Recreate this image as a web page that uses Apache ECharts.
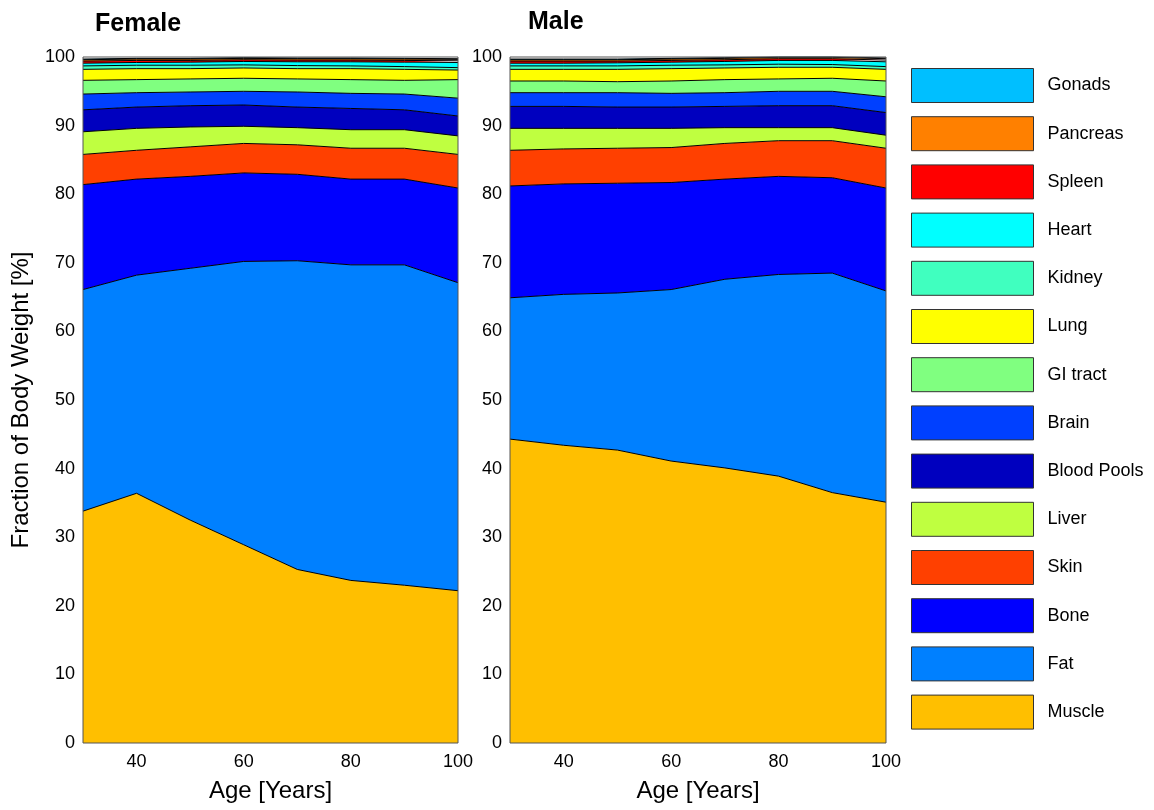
<!DOCTYPE html>
<html>
<head>
<meta charset="utf-8">
<script src="https://cdn.jsdelivr.net/npm/echarts@6/dist/echarts.min.js"></script>
<style>html,body{margin:0;padding:0;background:#fff}#c{width:1154px;height:810px}</style>
</head>
<body>
<div id="c"></div>
<script>
const ages = [30, 40, 50, 60, 70, 80, 90, 100];
const organs = ['Muscle','Fat','Bone','Skin','Liver','Blood Pools','Brain','GI tract','Lung','Kidney','Heart','Spleen','Pancreas','Gonads'];
const colors = ['#FFBF00','#0080FF','#0000FF','#FF4000','#BFFF40','#0000BF','#0040FF','#80FF80','#FFFF00','#40FFBF','#00FFFF','#FF0000','#FF8000','#00BFFF'];

// Female fractions [%]
const femaleMuscle   = [33.8, 36.4, 32.5, 28.9, 25.3, 23.7, 23.0, 22.2];
const femaleFat      = [32.3, 31.8, 36.7, 41.3, 45.0, 46.0, 46.7, 44.9];
const femaleBone     = [15.3, 14.0, 13.4, 12.9, 12.6, 12.5, 12.5, 13.8];
const femaleSkin     = [4.4, 4.2, 4.3, 4.3, 4.3, 4.5, 4.5, 4.9];
const femaleLiver    = [3.3, 3.2, 2.9, 2.5, 2.5, 2.7, 2.7, 2.7];
const femaleBlood    = [3.2, 3.1, 3.1, 3.1, 3.0, 3.1, 2.9, 2.9];
const femaleBrain    = [2.3, 2.1, 2.0, 2.0, 2.2, 2.2, 2.3, 2.6];
const femaleGI       = [2.0, 1.9, 1.9, 1.9, 1.9, 2.0, 2.0, 2.7];
const femaleLung     = [1.6, 1.6, 1.5, 1.5, 1.5, 1.6, 1.6, 1.4];
const femaleKidney   = [0.5, 0.5, 0.5, 0.45, 0.45, 0.4, 0.4, 0.35];
const femaleHeart    = [0.4, 0.4, 0.45, 0.5, 0.55, 0.6, 0.65, 0.75];
const femaleSpleen   = [0.3, 0.3, 0.25, 0.25, 0.25, 0.25, 0.25, 0.25];
const femalePancreas = [0.2, 0.2, 0.2, 0.2, 0.2, 0.2, 0.2, 0.2];
const femaleGonads   = [0.1, 0.1, 0.1, 0.1, 0.1, 0.1, 0.1, 0.1];

// Male fractions [%]
const maleMuscle   = [44.3, 43.4, 42.7, 41.1, 40.1, 38.9, 36.5, 35.1];
const maleFat      = [20.6, 22.0, 22.9, 25.0, 27.5, 29.4, 32.0, 30.8];
const maleBone     = [16.3, 16.1, 16.0, 15.6, 14.6, 14.3, 13.9, 15.0];
const maleSkin     = [5.2, 5.1, 5.1, 5.1, 5.2, 5.2, 5.4, 5.8];
const maleLiver    = [3.2, 3.0, 2.9, 2.8, 2.3, 1.9, 1.9, 1.9];
const maleBlood    = [3.2, 3.2, 3.1, 3.1, 3.1, 3.2, 3.2, 3.3];
const maleBrain    = [2.0, 2.0, 2.1, 2.0, 2.0, 2.1, 2.1, 2.3];
const maleGI       = [1.7, 1.7, 1.6, 1.8, 1.9, 1.8, 1.9, 2.3];
const maleLung     = [1.7, 1.7, 1.8, 1.8, 1.7, 1.7, 1.6, 1.7];
const maleKidney   = [0.5, 0.5, 0.5, 0.5, 0.45, 0.45, 0.4, 0.4];
const maleHeart    = [0.4, 0.4, 0.45, 0.45, 0.5, 0.55, 0.6, 0.7];
const maleSpleen   = [0.3, 0.3, 0.25, 0.25, 0.25, 0.25, 0.25, 0.25];
const malePancreas = [0.2, 0.2, 0.2, 0.2, 0.2, 0.2, 0.2, 0.2];
const maleGonads   = [0.1, 0.1, 0.1, 0.1, 0.1, 0.1, 0.1, 0.1];

const yTicks = [0,10,20,30,40,50,60,70,80,90,100];
const xTickLabels = ['40', '60', '80', '100'];

const femaleData = [femaleMuscle, femaleFat, femaleBone, femaleSkin, femaleLiver, femaleBlood, femaleBrain, femaleGI, femaleLung, femaleKidney, femaleHeart, femaleSpleen, femalePancreas, femaleGonads];
const maleData = [maleMuscle, maleFat, maleBone, maleSkin, maleLiver, maleBlood, maleBrain, maleGI, maleLung, maleKidney, maleHeart, maleSpleen, malePancreas, maleGonads];

const FONT = 'Liberation Sans, Arial, sans-serif';

function xAxis(idx) {
  return {
    type: 'category', gridIndex: idx, data: ages.map(String), boundaryGap: false,
    name: 'Age [Years]', nameLocation: 'middle', nameGap: 36,
    nameTextStyle: { fontSize: 24, color: '#000', fontFamily: FONT },
    axisLine: { show: false }, axisTick: { show: false }, splitLine: { show: false },
    axisLabel: { fontSize: 18, color: '#000', fontFamily: FONT, margin: 10, interval: 0,
      formatter: v => xTickLabels.indexOf(String(v)) >= 0 ? String(v) : '' }
  };
}
function yAxis(idx, withName) {
  return {
    type: 'value', gridIndex: idx, min: yTicks[0], max: yTicks[yTicks.length-1], interval: 10,
    name: withName ? 'Fraction of Body Weight [%]' : '', nameLocation: 'middle', nameGap: 50, nameRotate: 90,
    nameTextStyle: { fontSize: 24, color: '#000', fontFamily: FONT },
    axisLine: { show: false }, axisTick: { show: false }, splitLine: { show: false },
    axisLabel: { fontSize: 18, color: '#000', fontFamily: FONT, margin: 8 }
  };
}

const series = [];
function addSeries(data, idx, stack) {
  organs.forEach((name, i) => {
    series.push({
      name: name, type: 'line', stack: stack, xAxisIndex: idx, yAxisIndex: idx,
      data: data[i],
      symbol: 'none', smooth: false,
      lineStyle: { color: '#000', width: 1 },
      itemStyle: { color: colors[i], borderColor: '#333', borderWidth: 1 },
      areaStyle: { color: colors[i], opacity: 1 },
      z: 2
    });
  });
}
addSeries(femaleData, 0, 'F');
addSeries(maleData, 1, 'M');

const chart = echarts.init(document.getElementById('c'), null, { renderer: 'canvas' });
chart.setOption({
  animation: false,
  backgroundColor: '#fff',
  textStyle: { fontFamily: FONT },
  title: [
    { text: 'Female', left: 90, top: 7, textStyle: { fontSize: 25, fontWeight: 'bold', color: '#000', fontFamily: FONT } },
    { text: 'Male', left: 523, top: 5, textStyle: { fontSize: 25, fontWeight: 'bold', color: '#000', fontFamily: FONT } }
  ],
  grid: [
    { left: 83, top: 57, width: 375, height: 686, show: true, borderColor: '#555', borderWidth: 1, backgroundColor: 'transparent', z: 5 },
    { left: 510, top: 57, width: 376, height: 686, show: true, borderColor: '#555', borderWidth: 1, backgroundColor: 'transparent', z: 5 }
  ],
  xAxis: [xAxis(0), xAxis(1)],
  yAxis: [yAxis(0, true), yAxis(1, false)],
  legend: {
    orient: 'vertical', left: 906, top: 63,
    itemWidth: 122, itemHeight: 34, itemGap: 13.2,
    icon: 'rect',
    data: organs.slice().reverse(),
    textStyle: { fontSize: 18, color: '#000', fontFamily: FONT, padding: [0, 0, 0, 9] },
    itemStyle: { borderColor: '#333', borderWidth: 1 },
    selectedMode: false
  },
  series: series
});
</script>
</body>
</html>
